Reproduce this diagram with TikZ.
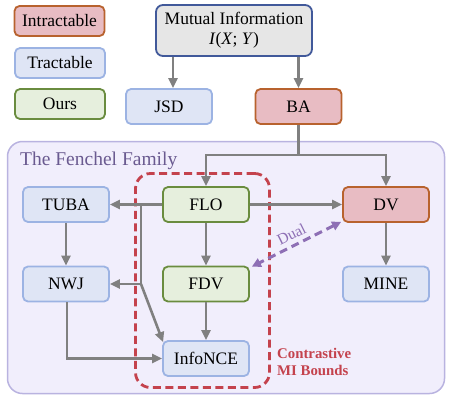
\documentclass[tikz,border=0pt]{standalone}
\usepackage{fontspec}
\setmainfont{Liberation Serif}
\usetikzlibrary{arrows.meta,positioning}
\definecolor{intrfill}{HTML}{E8BCC3}
\definecolor{intrdraw}{HTML}{B8622E}
\definecolor{trfill}{HTML}{DFE5F5}
\definecolor{trdraw}{HTML}{9CB3E3}
\definecolor{ourfill}{HTML}{E6EFDD}
\definecolor{ourdraw}{HTML}{6A8C3F}
\definecolor{mifill}{HTML}{E6E6E6}
\definecolor{midraw}{HTML}{41599A}
\definecolor{famfill}{HTML}{F1EEFC}
\definecolor{famdraw}{HTML}{B9B3E0}
\definecolor{famtext}{HTML}{6A5A90}
\definecolor{contred}{HTML}{C4424D}
\definecolor{dualpurple}{HTML}{8E6FB5}
\definecolor{arrgray}{HTML}{808080}
\tikzset{
  box/.style={rounded corners=5pt, line width=1.8pt, minimum height=35pt,
    minimum width=86pt, inner sep=0pt, font=\fontsize{17.5}{20}\selectfont},
  intr/.style={box, fill=intrfill, draw=intrdraw},
  tract/.style={box, fill=trfill, draw=trdraw},
  ours/.style={box, fill=ourfill, draw=ourdraw},
  legendbox/.style={minimum height=30pt, minimum width=90pt},
  link/.style={draw=arrgray, line width=2.6pt},
  arr/.style={link, -{Triangle[length=10pt,width=9pt]}},
  dualarr/.style={draw=dualpurple, line width=3pt, dash pattern=on 8pt off 5pt,
    {Triangle[length=9pt,width=9pt]}-{Triangle[length=9pt,width=9pt]}},
}
\begin{document}
\begin{tikzpicture}[x=1pt,y=-1pt]
\useasboundingbox (0,0) rectangle (452,400);
% container
\node[rounded corners=15pt, fill=famfill, draw=famdraw, line width=1.5pt,
  minimum width=437pt, minimum height=252pt, inner sep=0pt] (family) at (226,267.5) {};
\node[anchor=base west, text=famtext, font=\fontsize{19.5}{22}\selectfont, inner sep=0pt]
  (famtitle) at (20,165) {The Fenchel Family};
% contrastive dashed box
\node[rounded corners=15pt, draw=contred, line width=2.8pt, dash pattern=on 8pt off 4.5pt,
  minimum width=134pt, minimum height=214pt, inner sep=0pt] (contr) at (202.5,280.5) {};
\node[anchor=west, align=left, text=contred, font=\bfseries\fontsize{14.8}{17}\selectfont,
  inner sep=0pt] (contrlabel) at (277,361.5) {Contrastive\\MI Bounds};
% legend
\node[intr, legendbox] (lintr) at (59.5,21) {Intractable};
\node[tract, legendbox] (ltract) at (60,63) {Tractable};
\node[ours, legendbox] (lours) at (60,104) {Ours};
% top
\node[box, fill=mifill, draw=midraw, minimum width=156pt, minimum height=51pt, align=center,
  rounded corners=7pt] (mi) at (234,30.5) {Mutual Information\\\textit{I}(\textit{X}; \textit{Y})};
\node[tract] (jsd) at (169,106.5) {JSD};
\node[intr] (ba) at (298.5,106.5) {BA};
% family nodes
\node[tract] (tuba) at (66,204.5) {TUBA};
\node[ours] (flo) at (206,204.5) {FLO};
\node[intr] (dv) at (386,204.5) {DV};
\node[tract] (nwj) at (66,284) {NWJ};
\node[ours] (fdv) at (206,284) {FDV};
\node[tract] (mine) at (386,284) {MINE};
\node[tract] (infonce) at (206,358.5) {InfoNCE};
% connectors
\draw[arr] ([xshift=4pt]jsd.north |- mi.south) -- ([xshift=4pt]jsd.north);
\draw[arr] (mi.south -| ba.north) -- (ba.north);
\coordinate (split) at (298.5,155);
\draw[link] (ba.south) -- (split);
\draw[arr] (split) -| (flo.north);
\draw[arr] (split) -| (dv.north);
\draw[arr] (flo.west) -- (tuba.east);
\draw[arr] (flo.east) -- (dv.west);
\draw[arr] (flo.south) -- (fdv.north);
\draw[arr] (tuba.south) -- (nwj.north);
\draw[arr] (dv.south) -- (mine.north);
\draw[arr] (fdv.south) -- (infonce.north);
\coordinate (b1) at (141,204.5);
\coordinate (b2) at (141,284);
\draw[link] (b1) -- (b2);
\draw[arr] (b2) -- (nwj.east);
\draw[arr] (b2) -- ([xshift=1pt,yshift=-2pt]infonce.north west);
\draw[arr] ([xshift=1pt]nwj.south) |- (infonce.west);
\draw[dualarr] ([xshift=-1pt,yshift=1pt]dv.south west) -- node[midway, above=1pt, sloped,
  text=dualpurple, font=\fontsize{15.5}{18}\selectfont] (duallabel) {Dual}
  ([xshift=2pt,yshift=-1pt]fdv.north east);
\end{tikzpicture}
\end{document}
